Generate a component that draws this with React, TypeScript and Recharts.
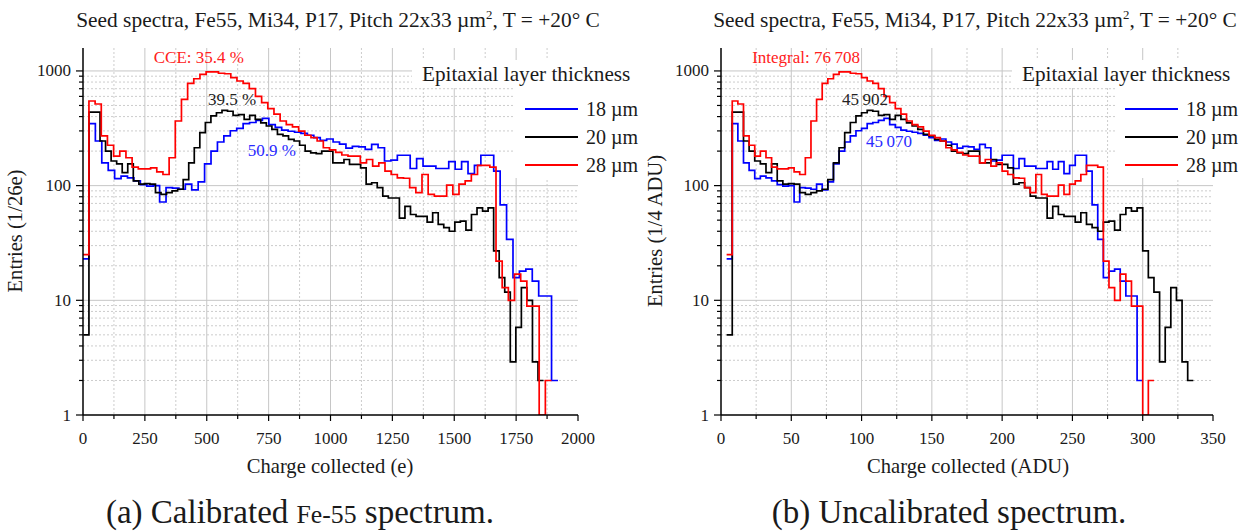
import React from "react";
import { LineChart, Line, XAxis, YAxis, CartesianGrid, ReferenceDot } from "recharts";

// histograms are read per 4 ADU bin, first bin starts at 4 ADU
const BIN_START_ADU = 4;
const BIN_WIDTH_ADU = 4;

const COUNTS_18UM = [
  23, 347, 245, 158, 136, 115, 121, 117, 110, 102, 99, 100, 72, 96, 95, 93, 103, 92, 108,
  155, 200, 240, 271, 301, 316, 347, 355, 371, 386, 340, 322,
  305, 298, 292, 285, 275, 262, 248, 255, 240, 230, 212, 220,
  218, 207, 229, 214, 164, 167, 184, 184, 141, 172, 148, 148, 141, 141, 162, 139, 162, 127,
  150, 184, 184, 134, 68, 34, 15.8, 18, 18.7, 14.7, 10.9, 10.9, 2,
];
const COUNTS_20UM = [
  5, 438, 438, 245, 200, 164, 155, 130, 155, 110, 103, 104, 103, 87, 84, 87, 90, 93, 113, 158, 214,
  290, 355, 405, 432, 453, 445, 410, 416, 378, 410, 378, 352, 331, 310, 280, 271, 253, 245, 225, 200, 193, 190,
  200, 200, 158, 158, 169, 153, 153, 143, 103, 106, 96, 81, 78, 78, 52, 66, 56, 54, 54, 48, 58, 46, 43, 40,
  48, 49, 41, 56, 64, 60, 64, 27, 15.8, 11.8, 2.9, 5.8, 12.9, 10, 2.9, 2,
];
const COUNTS_28UM = [
  25, 547, 515, 271, 225, 181, 200, 175, 145, 140, 140, 143, 132, 125, 175, 366, 565, 780, 855, 934, 982,
  982, 955, 945, 873, 817, 780, 700, 600, 530, 470, 420, 366, 340, 325, 299, 275, 262, 245, 214, 205, 195, 185,
  181, 181, 158, 169, 148, 158, 134, 125, 117, 116, 96, 87, 125, 84, 81, 81, 101, 84, 103, 110, 125, 150, 150, 145,
  22, 12.9, 10, 16.9, 14.7, 8.9, 8.9, 0, 2,
];

// calibration for panel (a): e = E_AT_8ADU + gain * (adu - 8)
const E_AT_8ADU = 24;
const GAIN_18UM = 6.49;
const GAIN_20UM = 5.6;
const GAIN_28UM = 6.23;

const Y_MIN = 1;
const Y_MAX = 1585;
const Y_MAJOR = [1, 10, 100, 1000];
const Y_MINOR = [2, 3, 4, 5, 6, 7, 8, 9, 20, 30, 40, 50, 60, 70, 80, 90, 200, 300, 400, 500, 600, 700, 800, 900];

const XA_MAJOR = [0, 250, 500, 750, 1000, 1250, 1500, 1750, 2000];
const XA_MINOR = [125, 375, 625, 875, 1125, 1375, 1625, 1875];
const XB_MAJOR = [0, 50, 100, 150, 200, 250, 300, 350];
const XB_MINOR = [25, 75, 125, 175, 225, 275, 325];

const LEGEND_NAMES = ["18 µm", "20 µm", "28 µm"];
const COLORS = ["#0000ff", "#000000", "#ff0000"];

const NOTES_A = [
  { x: 468, y: 1322, text: "CCE: 35.4 %", color: "#ff2020" },
  { x: 602, y: 569, text: "39.5 %", color: "#222" },
  { x: 763, y: 204, text: "50.9 %", color: "#2a2aff" },
];
const NOTES_B = [
  { x: 60.5, y: 1322, text: "Integral: 76\u2009708", color: "#ff2020" },
  { x: 102.4, y: 569, text: "45\u2009902", color: "#222" },
  { x: 119.5, y: 245, text: "45\u2009070", color: "#2a2aff" },
];

const FONT = '"Liberation Serif", "Times New Roman", serif';
const TEXT = "#1a1a1a";

type Pt = { x: number; y: number };

function histogram(counts: number[], toX: (adu: number) => number): Pt[] {
  const pts = counts.map((c, i) => ({ x: toX(BIN_START_ADU + i * BIN_WIDTH_ADU), y: Math.max(c, Y_MIN) }));
  const last = counts[counts.length - 1];
  pts.push({ x: toX(BIN_START_ADU + counts.length * BIN_WIDTH_ADU), y: Math.max(last, Y_MIN) });
  return pts;
}

const calib = (gain: number) => (adu: number) => E_AT_8ADU + gain * (adu - 8);
const raw = (adu: number) => adu;

const SERIES_A = [
  histogram(COUNTS_18UM, calib(GAIN_18UM)),
  histogram(COUNTS_20UM, calib(GAIN_20UM)),
  histogram(COUNTS_28UM, calib(GAIN_28UM)),
];
const SERIES_B = [histogram(COUNTS_18UM, raw), histogram(COUNTS_20UM, raw), histogram(COUNTS_28UM, raw)];

const XTick = ({ x, y, payload, majors }: any) => {
  const major = majors.includes(payload.value);
  return (
    <g>
      <line x1={x} x2={x} y1={y} y2={y + (major ? 6 : 4)} stroke="#000" strokeWidth={1.2} />
      {major && (
        <text x={x} y={y + 23} textAnchor="middle" dominantBaseline="central" fontFamily={FONT} fontSize={17} fill={TEXT}>
          {payload.value}
        </text>
      )}
    </g>
  );
};

const YTick = ({ x, y, payload }: any) => {
  const major = Y_MAJOR.includes(payload.value);
  return (
    <g>
      <line x1={x} x2={x - (major ? 7 : 4)} y1={y} y2={y} stroke="#000" strokeWidth={1.2} />
      {major && (
        <text x={x - 12} y={y} textAnchor="end" dominantBaseline="central" fontFamily={FONT} fontSize={17} fill={TEXT}>
          {payload.value}
        </text>
      )}
    </g>
  );
};

function Panel(props: {
  left: number;
  width: number;
  yAxisWidth: number;
  marginRight: number;
  xMax: number;
  xMajor: number[];
  xMinor: number[];
  series: Pt[][];
  notes: { x: number; y: number; text: string; color: string }[];
}) {
  const { left, width, yAxisWidth, marginRight, xMax, xMajor, xMinor, series, notes } = props;
  const xTicks = [...xMajor, ...xMinor].sort((a, b) => a - b);
  return (
    <div style={{ position: "absolute", left, top: 0 }}>
      <LineChart width={width} height={480} margin={{ top: 48, right: marginRight, bottom: 35, left: 0 }}>
        <CartesianGrid stroke="#cccccc" strokeDasharray="2 2" verticalValues={xMinor} horizontalValues={Y_MINOR} />
        <CartesianGrid
          stroke="#c6c6c6"
          verticalValues={xMajor.filter((v) => v > 0 && v < xMax)}
          horizontalValues={[10, 100, 1000]}
        />
        <XAxis
          type="number"
          dataKey="x"
          domain={[0, xMax]}
          ticks={xTicks}
          interval={0}
          allowDataOverflow
          tickSize={0}
          tickMargin={0}
          tickLine={false}
          axisLine={{ stroke: "#000", strokeWidth: 1.5 }}
          tick={(p: any) => <XTick {...p} majors={xMajor} />}
          height={30}
        />
        <YAxis
          type="number"
          scale="log"
          domain={[Y_MIN, Y_MAX]}
          allowDataOverflow
          ticks={[...Y_MAJOR, ...Y_MINOR].sort((a, b) => a - b)}
          interval={0}
          tickSize={0}
          tickMargin={0}
          tickLine={false}
          axisLine={{ stroke: "#000", strokeWidth: 1.5 }}
          tick={(p: any) => <YTick {...p} />}
          width={yAxisWidth}
        />
        {series.map((data, i) => (
          <Line
            key={LEGEND_NAMES[i]}
            name={LEGEND_NAMES[i]}
            data={data}
            dataKey="y"
            type="stepAfter"
            stroke={COLORS[i]}
            strokeWidth={1.7}
            dot={false}
            isAnimationActive={false}
          />
        ))}
        {notes.map((n) => (
          <ReferenceDot
            key={n.text}
            x={n.x}
            y={n.y}
            r={0}
            fill="none"
            stroke="none"
            ifOverflow="visible"
            label={{ value: n.text, position: "center", fill: n.color, fontSize: 17, fontFamily: FONT }}
          />
        ))}
      </LineChart>
    </div>
  );
}

function LegendBox({ titleLeft, itemLeft }: { titleLeft: number; itemLeft: number }) {
  const rows = [109, 137, 165];
  return (
    <>
      <div style={{ position: "absolute", left: titleLeft, top: 60, width: 226, height: 28, background: "#fff" }} />
      <div style={{ position: "absolute", left: itemLeft, top: 88, width: 123, height: 90, background: "#fff" }} />
      <div
        style={{
          position: "absolute",
          left: titleLeft + 10,
          top: 62,
          fontFamily: FONT,
          fontSize: 21.2,
          color: TEXT,
          whiteSpace: "nowrap",
          lineHeight: "24px",
        }}
      >
        Epitaxial layer thickness
      </div>
      {LEGEND_NAMES.map((name, i) => (
        <React.Fragment key={name}>
          <div
            style={{
              position: "absolute",
              left: itemLeft + 10,
              top: rows[i] - 1,
              width: 53,
              height: 2,
              background: COLORS[i],
            }}
          />
          <div
            style={{
              position: "absolute",
              left: itemLeft + 71,
              top: rows[i] - 12,
              fontFamily: FONT,
              fontSize: 20,
              color: TEXT,
              whiteSpace: "nowrap",
              lineHeight: "24px",
            }}
          >
            {name}
          </div>
        </React.Fragment>
      ))}
    </>
  );
}

const centered = (x: number, y: number, size: number, extra: React.CSSProperties = {}): React.CSSProperties => ({
  position: "absolute",
  left: x,
  top: y,
  transform: "translate(-50%, -50%)",
  fontFamily: FONT,
  fontSize: size,
  color: TEXT,
  whiteSpace: "nowrap",
  lineHeight: 1,
  ...extra,
});

function Title({ x }: { x: number }) {
  return (
    <div style={centered(x, 20, 21.4)}>
      Seed spectra, Fe55, Mi34, P17, Pitch 22x33 µm<sup style={{ fontSize: "0.6em" }}>2</sup>, T = +20° C
    </div>
  );
}

export default function App() {
  return (
    <div style={{ position: "absolute", left: 0, top: 0, width: 1257, height: 532, background: "#fff", overflow: "hidden" }}>
      <Panel
        left={0}
        width={640}
        yAxisWidth={83}
        marginRight={62}
        xMax={2000}
        xMajor={XA_MAJOR}
        xMinor={XA_MINOR}
        series={SERIES_A}
        notes={NOTES_A}
      />
      <Panel
        left={640}
        width={617}
        yAxisWidth={81}
        marginRight={44}
        xMax={350}
        xMajor={XB_MAJOR}
        xMinor={XB_MINOR}
        series={SERIES_B}
        notes={NOTES_B}
      />
      <LegendBox titleLeft={412} itemLeft={515} />
      <LegendBox titleLeft={1012} itemLeft={1115} />
      <Title x={338} />
      <Title x={975} />
      <div style={centered(15, 231, 20.6, { transform: "translate(-50%, -50%) rotate(-90deg)" })}>Entries (1/26e)</div>
      <div style={centered(655, 231, 20.6, { transform: "translate(-50%, -50%) rotate(-90deg)" })}>Entries (1/4 ADU)</div>
      <div style={centered(330, 466, 20.6)}>Charge collected (e)</div>
      <div style={centered(968, 466, 20.6)}>Charge collected (ADU)</div>
      <div style={centered(300, 512, 33)}>
        (a) Calibrated <span style={{ fontSize: "0.78em" }}>Fe-55</span> spectrum.
      </div>
      <div style={centered(949, 512, 33)}>(b) Uncalibrated spectrum.</div>
    </div>
  );
}
